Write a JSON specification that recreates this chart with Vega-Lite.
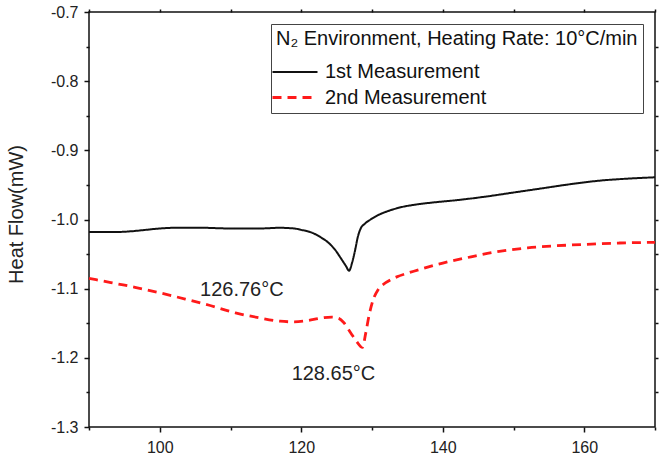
{
  "$schema": "https://vega.github.io/schema/vega-lite/v6.json",
  "width": 566,
  "height": 415,
  "autosize": "none",
  "padding": {"left": 89, "top": 12, "right": 10, "bottom": 38},
  "background": "white",
  "config": {
    "font": "Liberation Sans",
    "view": {"stroke": "#111", "strokeWidth": 1.5},
    "axis": {
      "domain": false,
      "grid": false,
      "tickColor": "#111",
      "tickWidth": 1.5,
      "labelColor": "#222",
      "labelFont": "Liberation Sans",
      "labelFontSize": 16,
      "titleFont": "Liberation Sans",
      "titleFontWeight": "normal",
      "titleColor": "#222"
    }
  },
  "datasets": {
    "curves": [
      {"T": 90, "HF": -1.018, "series": "1st Measurement"},
      {"T": 92, "HF": -1.018, "series": "1st Measurement"},
      {"T": 94, "HF": -1.018, "series": "1st Measurement"},
      {"T": 96, "HF": -1.017, "series": "1st Measurement"},
      {"T": 98, "HF": -1.015, "series": "1st Measurement"},
      {"T": 100, "HF": -1.013, "series": "1st Measurement"},
      {"T": 102, "HF": -1.012, "series": "1st Measurement"},
      {"T": 106, "HF": -1.012, "series": "1st Measurement"},
      {"T": 110, "HF": -1.013, "series": "1st Measurement"},
      {"T": 114, "HF": -1.013, "series": "1st Measurement"},
      {"T": 117, "HF": -1.012, "series": "1st Measurement"},
      {"T": 119, "HF": -1.013, "series": "1st Measurement"},
      {"T": 120, "HF": -1.015, "series": "1st Measurement"},
      {"T": 121.5, "HF": -1.019, "series": "1st Measurement"},
      {"T": 122.8, "HF": -1.026, "series": "1st Measurement"},
      {"T": 124, "HF": -1.035, "series": "1st Measurement"},
      {"T": 124.8, "HF": -1.044, "series": "1st Measurement"},
      {"T": 125.6, "HF": -1.056, "series": "1st Measurement"},
      {"T": 126.3, "HF": -1.067, "series": "1st Measurement"},
      {"T": 126.76, "HF": -1.074, "series": "1st Measurement"},
      {"T": 127.2, "HF": -1.062, "series": "1st Measurement"},
      {"T": 127.6, "HF": -1.045, "series": "1st Measurement"},
      {"T": 128, "HF": -1.025, "series": "1st Measurement"},
      {"T": 128.4, "HF": -1.013, "series": "1st Measurement"},
      {"T": 129, "HF": -1.006, "series": "1st Measurement"},
      {"T": 129.8, "HF": -1.0, "series": "1st Measurement"},
      {"T": 131, "HF": -0.993, "series": "1st Measurement"},
      {"T": 132.5, "HF": -0.987, "series": "1st Measurement"},
      {"T": 134.2, "HF": -0.982, "series": "1st Measurement"},
      {"T": 136.5, "HF": -0.978, "series": "1st Measurement"},
      {"T": 139, "HF": -0.975, "series": "1st Measurement"},
      {"T": 142, "HF": -0.972, "series": "1st Measurement"},
      {"T": 146, "HF": -0.967, "series": "1st Measurement"},
      {"T": 150, "HF": -0.961, "series": "1st Measurement"},
      {"T": 154, "HF": -0.955, "series": "1st Measurement"},
      {"T": 158, "HF": -0.949, "series": "1st Measurement"},
      {"T": 162, "HF": -0.944, "series": "1st Measurement"},
      {"T": 166, "HF": -0.941, "series": "1st Measurement"},
      {"T": 170, "HF": -0.939, "series": "1st Measurement"},
      {"T": 90, "HF": -1.085, "series": "2nd Measurement"},
      {"T": 92, "HF": -1.089, "series": "2nd Measurement"},
      {"T": 94, "HF": -1.093, "series": "2nd Measurement"},
      {"T": 96.5, "HF": -1.098, "series": "2nd Measurement"},
      {"T": 100, "HF": -1.106, "series": "2nd Measurement"},
      {"T": 103.6, "HF": -1.115, "series": "2nd Measurement"},
      {"T": 107, "HF": -1.124, "series": "2nd Measurement"},
      {"T": 110.7, "HF": -1.135, "series": "2nd Measurement"},
      {"T": 114, "HF": -1.142, "series": "2nd Measurement"},
      {"T": 117, "HF": -1.147, "series": "2nd Measurement"},
      {"T": 119, "HF": -1.148, "series": "2nd Measurement"},
      {"T": 121, "HF": -1.146, "series": "2nd Measurement"},
      {"T": 122.5, "HF": -1.143, "series": "2nd Measurement"},
      {"T": 124.3, "HF": -1.141, "series": "2nd Measurement"},
      {"T": 125.3, "HF": -1.143, "series": "2nd Measurement"},
      {"T": 126, "HF": -1.149, "series": "2nd Measurement"},
      {"T": 127, "HF": -1.164, "series": "2nd Measurement"},
      {"T": 127.8, "HF": -1.176, "series": "2nd Measurement"},
      {"T": 128.65, "HF": -1.185, "series": "2nd Measurement"},
      {"T": 129.1, "HF": -1.165, "series": "2nd Measurement"},
      {"T": 129.6, "HF": -1.138, "series": "2nd Measurement"},
      {"T": 130.2, "HF": -1.115, "series": "2nd Measurement"},
      {"T": 130.9, "HF": -1.101, "series": "2nd Measurement"},
      {"T": 132, "HF": -1.091, "series": "2nd Measurement"},
      {"T": 133.5, "HF": -1.083, "series": "2nd Measurement"},
      {"T": 135.2, "HF": -1.077, "series": "2nd Measurement"},
      {"T": 137.5, "HF": -1.07, "series": "2nd Measurement"},
      {"T": 140, "HF": -1.063, "series": "2nd Measurement"},
      {"T": 144, "HF": -1.054, "series": "2nd Measurement"},
      {"T": 148, "HF": -1.046, "series": "2nd Measurement"},
      {"T": 152, "HF": -1.041, "series": "2nd Measurement"},
      {"T": 156, "HF": -1.038, "series": "2nd Measurement"},
      {"T": 160, "HF": -1.036, "series": "2nd Measurement"},
      {"T": 165, "HF": -1.034, "series": "2nd Measurement"},
      {"T": 170, "HF": -1.033, "series": "2nd Measurement"}
    ],
    "peaks": [
      {"T": 111.6, "HF": -1.102, "label": "126.76°C"},
      {"T": 124.55, "HF": -1.223, "label": "128.65°C"}
    ]
  },
  "resolve": {
    "scale": {"x": "shared", "y": "shared"},
    "axis": {"x": "independent", "y": "independent"}
  },
  "layer": [
    {
      "data": {"name": "curves"},
      "mark": {"type": "line", "interpolate": "monotone"},
      "encoding": {
        "x": {
          "field": "T", "type": "quantitative",
          "scale": {"domain": [90, 170], "nice": false, "zero": false},
          "axis": {"orient": "bottom", "title": null, "values": [100, 120, 140, 160], "tickSize": 5, "labelPadding": 7}
        },
        "y": {
          "field": "HF", "type": "quantitative",
          "scale": {"domain": [-1.3, -0.7], "nice": false, "zero": false},
          "axis": {
            "orient": "left", "title": "Heat Flow(mW)",
            "values": [-1.3, -1.2, -1.1, -1.0, -0.9, -0.8, -0.7],
            "labelExpr": "replace(format(datum.value, '.1f'), '−', '-')",
            "tickSize": 5, "labelPadding": 6,
            "titleFontSize": 20, "titleX": -73, "titleY": 202,
            "titleAngle": -90, "titleAlign": "center", "titleBaseline": "middle"
          }
        },
        "color": {
          "field": "series", "type": "nominal",
          "scale": {"domain": ["1st Measurement", "2nd Measurement"], "range": ["#111111", "#ff1a1a"]},
          "legend": {
            "title": "N₂ Environment, Heating Rate: 10°C/min",
            "orient": "top-right", "offset": 12,
            "strokeColor": "#444", "fillColor": "white", "padding": 5,
            "symbolType": "M-1.5,0H3", "symbolSize": 400, "symbolStrokeWidth": 2,
            "labelFontSize": 20, "labelColor": "#111", "labelOffset": 26, "labelLimit": 400,
            "titleFontSize": 20, "titleFontWeight": "normal", "titleColor": "#111",
            "titleLimit": 500, "titlePadding": 12, "rowPadding": 4
          }
        },
        "strokeDash": {
          "field": "series", "type": "nominal",
          "scale": {"domain": ["1st Measurement", "2nd Measurement"], "range": [[1, 0], [9, 6]]},
          "legend": {
            "title": "N₂ Environment, Heating Rate: 10°C/min",
            "orient": "top-right", "offset": 12,
            "strokeColor": "#444", "fillColor": "white", "padding": 5,
            "symbolType": "M-1.5,0H3", "symbolSize": 400, "symbolStrokeWidth": 2,
            "labelFontSize": 20, "labelColor": "#111", "labelOffset": 26, "labelLimit": 400,
            "titleFontSize": 20, "titleFontWeight": "normal", "titleColor": "#111",
            "titleLimit": 500, "titlePadding": 12, "rowPadding": 4
          }
        },
        "strokeWidth": {
          "field": "series", "type": "nominal",
          "scale": {"domain": ["1st Measurement", "2nd Measurement"], "range": [2, 2.8]},
          "legend": null
        }
      }
    },
    {
      "data": {"name": "peaks"},
      "mark": {"type": "text", "fontSize": 20, "color": "#222", "align": "center", "baseline": "middle"},
      "encoding": {
        "x": {
          "field": "T", "type": "quantitative",
          "axis": {"orient": "bottom", "title": null, "values": [90, 110, 130, 150, 170], "tickSize": 3, "labels": false}
        },
        "y": {
          "field": "HF", "type": "quantitative",
          "axis": {"orient": "left", "title": null, "values": [-1.25, -1.15, -1.05, -0.95, -0.85, -0.75], "tickSize": 3, "labels": false}
        },
        "text": {"field": "label"}
      }
    },
    {
      "data": {"name": "curves"},
      "mark": {"type": "point", "opacity": 0},
      "encoding": {
        "x": {
          "field": "T", "type": "quantitative",
          "axis": {"orient": "top", "title": null, "values": [90, 100, 110, 120, 130, 140, 150, 160, 170], "tickSize": 3, "labels": false}
        },
        "y": {
          "field": "HF", "type": "quantitative",
          "axis": {"orient": "right", "title": null, "values": [-1.25, -1.2, -1.15, -1.1, -1.05, -1.0, -0.95, -0.9, -0.85, -0.8, -0.75], "tickSize": 3, "labels": false}
        }
      }
    }
  ]
}
